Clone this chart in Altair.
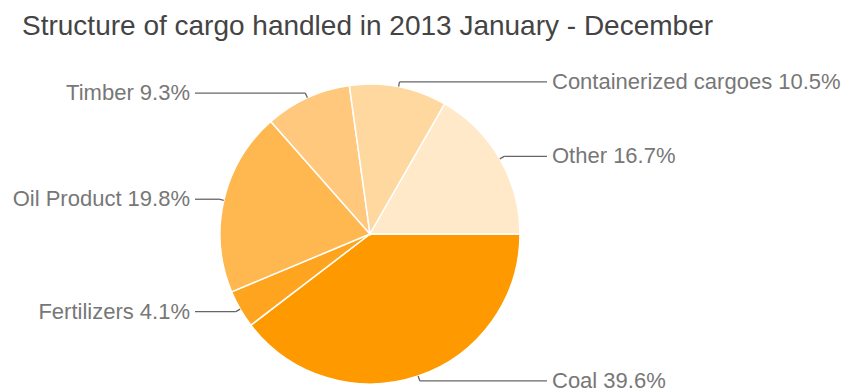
import math
import altair as alt
import pandas as pd

categories = ["Coal", "Fertilizers", "Oil Product", "Timber", "Containerized cargoes", "Other"]
shares = [39.6, 4.1, 19.8, 9.3, 10.5, 16.7]
slice_colors = ["#ff9900", "#ffa41f", "#ffb84f", "#ffc87c", "#ffd89f", "#ffe9c9"]
title_text = "Structure of cargo handled in 2013 January - December"

TOP = 48
W, H = 846, 392 - TOP
CX, CY, R = 370, 234 - TOP, 150
R_TICK = 155
LEFT_END, RIGHT_START = 195, 547
GAP = 5
FONT = "Liberation Sans"

df = pd.DataFrame({"category": categories, "share": shares, "order": list(range(len(categories)))})
base = alt.Chart(df)

pie = base.mark_arc(radius=R, stroke="white", strokeWidth=1.5).encode(
    theta=alt.Theta("share:Q", stack=True,
                    scale=alt.Scale(range=[math.pi / 2, math.pi / 2 + 2 * math.pi])),
    color=alt.Color("category:N", scale=alt.Scale(domain=categories, range=slice_colors), legend=None),
    order=alt.Order("order:Q"),
    x=alt.value(CX),
    y=alt.value(CY),
)

geo = (
    base.transform_joinaggregate(total="sum(share)")
    .transform_window(cum="sum(share)", sort=[alt.SortField("order")], frame=[None, 0])
    .transform_calculate(ang="PI/2 + 2*PI*(datum.cum - datum.share/2)/datum.total")
    .transform_calculate(ax=f"{CX} + {R}*sin(datum.ang)")
    .transform_calculate(ay=f"{CY} - {R}*cos(datum.ang)")
    .transform_calculate(bx=f"{CX} + {R_TICK}*sin(datum.ang)")
    .transform_calculate(by=f"{CY} - {R_TICK}*cos(datum.ang)")
    .transform_calculate(right="sin(datum.ang) > 0 ? 1 : 0")
    .transform_calculate(cx=f"datum.right ? {RIGHT_START} : {LEFT_END}")
    .transform_calculate(tx=f"datum.right ? {RIGHT_START + GAP} : {LEFT_END - GAP}")
    .transform_calculate(label="datum.category + ' ' + format(datum.share, '.1f') + '%'")
)

tick = geo.mark_rule(color="#666666", strokeWidth=1.3).encode(
    x=alt.X("ax:Q", scale=None), y=alt.Y("ay:Q", scale=None),
    x2="bx:Q", y2="by:Q",
)
leader = geo.mark_rule(color="#666666", strokeWidth=1.3).encode(
    x=alt.X("bx:Q", scale=None), x2="cx:Q", y=alt.Y("by:Q", scale=None),
)
text_right = geo.transform_filter("datum.right == 1").mark_text(
    align="left", baseline="middle", font=FONT, fontSize=22, color="#777777"
).encode(x=alt.X("tx:Q", scale=None), y=alt.Y("by:Q", scale=None), text="label:N")
text_left = geo.transform_filter("datum.right == 0").mark_text(
    align="right", baseline="middle", font=FONT, fontSize=22, color="#777777"
).encode(x=alt.X("tx:Q", scale=None), y=alt.Y("by:Q", scale=None), text="label:N")

chart = (
    alt.layer(pie, tick, leader, text_right, text_left)
    .properties(
        width=W,
        height=H,
        autosize=alt.AutoSizeParams(type="none"),
        padding={"left": 0, "top": TOP, "right": 0, "bottom": 0},
        title=alt.TitleParams(
            title_text, anchor="start", frame="group", fontSize=28, font=FONT,
            fontWeight="normal", color="#444444", dx=22, dy=27, offset=12, baseline="alphabetic",
        ),
    )
    .configure_view(stroke=None)
)

chart.save("out.html", embed_options={"renderer": "svg", "actions": False})
